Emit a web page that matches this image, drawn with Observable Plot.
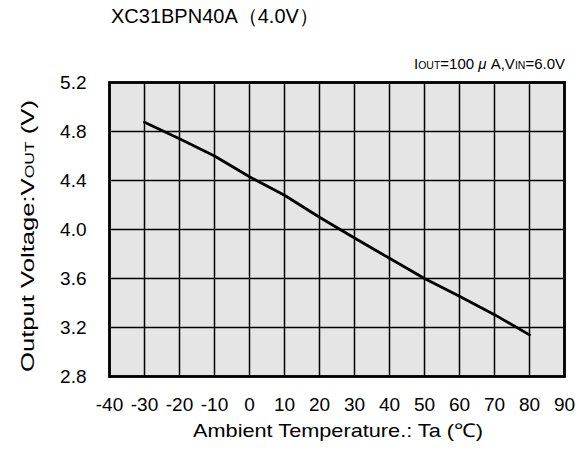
<!DOCTYPE html>
<html><head><meta charset="utf-8">
<script src="https://cdn.jsdelivr.net/npm/d3@7"></script>
<script src="https://cdn.jsdelivr.net/npm/@observablehq/plot@0.6"></script>
<style>body{margin:0;background:#fff;font-family:"Liberation Sans",Arial,sans-serif}</style>
</head><body><div id="chart"></div>
<script>
const temps = [-30, -20, -10, 0, 10, 20, 30, 40, 50, 60, 70, 80];
const vout = [4.875, 4.74, 4.60, 4.43, 4.28, 4.10, 3.93, 3.765, 3.60, 3.455, 3.305, 3.14];
const xTicks = [-40, -30, -20, -10, 0, 10, 20, 30, 40, 50, 60, 70, 80, 90];
const yTicks = [2.8, 3.2, 3.6, 4.0, 4.4, 4.8, 5.2];
const title = "XC31BPN40A（4.0V）";
const xLabel = "Ambient Temperature.: Ta (℃)";

const data = temps.map((t, i) => ({t, v: vout[i]}));
const font = "'Liberation Sans', Arial, sans-serif";

const chart = Plot.plot({
  width: 581, height: 450,
  marginLeft: 109, marginRight: 17, marginTop: 82, marginBottom: 74,
  style: {fontFamily: font, fontSize: "19px", color: "#000", background: "#fff"},
  x: {domain: [-40, 90], label: null},
  y: {domain: [2.8, 5.2], label: null},
  marks: [
    Plot.frame({fill: "#e5e5e5", stroke: null}),
    Plot.ruleX(xTicks, {stroke: "#000", strokeWidth: 1.5}),
    Plot.ruleY(yTicks, {stroke: "#000", strokeWidth: 1.5}),
    Plot.frame({stroke: "#000", strokeWidth: 2.8}),
    Plot.line(data, {x: "t", y: "v", stroke: "#000", strokeWidth: 2.8}),
    Plot.axisX({ticks: xTicks, tickSize: 0, tickPadding: 21, fontSize: 19, label: null, tickFormat: d => String(d)}),
    Plot.axisY({ticks: yTicks, tickSize: 0, tickPadding: 23, fontSize: 19, label: null, tickFormat: d => d.toFixed(1)})
  ]
});
document.getElementById("chart").append(chart);

const svg = d3.select(chart);
svg.append("text").attr("x", 111).attr("y", 23).attr("text-anchor", "start")
  .attr("font-size", 20).attr("font-family", font).text(title);

const ann = svg.append("text").attr("x", 565).attr("y", 69).attr("text-anchor", "end")
  .attr("font-size", 15).attr("font-family", font);
ann.append("tspan").text("I");
ann.append("tspan").attr("font-size", 10.5).text("OUT");
ann.append("tspan").text("=100");
ann.append("tspan").attr("font-style", "italic").text(" μ");
ann.append("tspan").text(" A,V");
ann.append("tspan").attr("font-size", 10.5).text("IN");
ann.append("tspan").text("=6.0V");

const yl = svg.append("text").attr("transform", "translate(34,236) rotate(-90)")
  .attr("text-anchor", "middle").attr("font-size", 19).attr("font-family", font)
  .attr("textLength", 272).attr("lengthAdjust", "spacingAndGlyphs");
yl.append("tspan").text("Output Voltage:V");
yl.append("tspan").attr("font-size", 13).text("OUT");
yl.append("tspan").text(" (V)");

svg.append("text").attr("x", 338).attr("y", 437).attr("text-anchor", "middle")
  .attr("font-size", 19).attr("font-family", font)
  .attr("textLength", 290).attr("lengthAdjust", "spacingAndGlyphs").text(xLabel);
</script></body></html>
